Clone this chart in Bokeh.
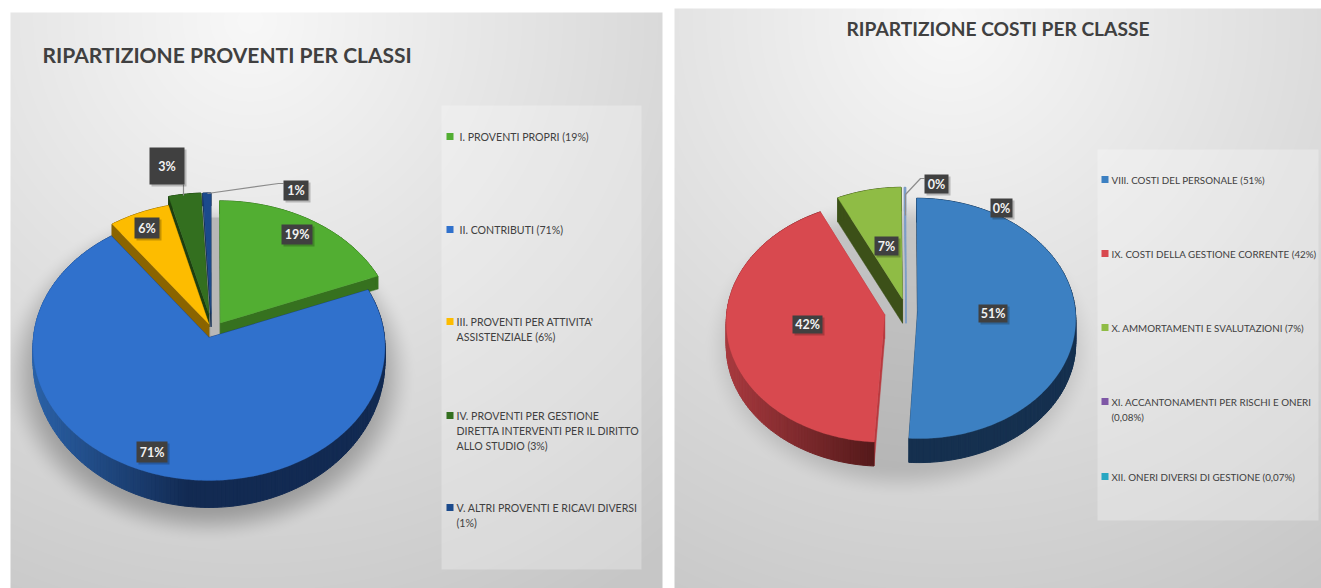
import math
import numpy as np
from bokeh.plotting import figure
from bokeh.models import Range1d
from bokeh.core.properties import value
from bokeh.embed import file_html
from bokeh.resources import INLINE

# ---------- data ----------
title_left = "RIPARTIZIONE PROVENTI PER CLASSI"
title_right = "RIPARTIZIONE COSTI PER CLASSE"
cats_left = ["I. PROVENTI PROPRI (19%)", "II. CONTRIBUTI (71%)",
             "III. PROVENTI PER ATTIVITA'\nASSISTENZIALE (6%)",
             "IV. PROVENTI PER GESTIONE\nDIRETTA INTERVENTI PER IL DIRITTO\nALLO STUDIO (3%)",
             "V. ALTRI PROVENTI E RICAVI DIVERSI\n(1%)"]
vals_left = [19.0, 71.0, 6.0, 3.2, 0.8]
labels_left = ["19%", "71%", "6%", "3%", "1%"]
cats_right = ["VIII. COSTI DEL PERSONALE (51%)", "IX. COSTI DELLA GESTIONE CORRENTE (42%)",
              "X. AMMORTAMENTI E SVALUTAZIONI (7%)",
              "XI. ACCANTONAMENTI PER RISCHI E ONERI\n(0,08%)",
              "XII. ONERI DIVERSI DI GESTIONE (0,07%)"]
vals_right = [51.0, 42.0, 7.0, 0.08, 0.07]
labels_right = ["51%", "42%", "7%", "0%", "0%"]

# ---------- styling / layout ----------
W, H = 1321, 588
FONT = "Lato"
TXT = "#404040"
def Y(py):
    return H - py

left_style = dict(
    cx=208.5, cy=337, rx=175.5, ry=132.8, k=0.071, d_front=27, d_back=13,
    shift=[(0.065, -0.11), (0, 0), (0, -0.10), (0, -0.18), (0.012, -0.18)],
    top=["#52AE32", "#3071CC", "#FDBC00", "#336F1F", "#1B4A8C"],
    rim=[("#36711F", "#36711F"), ("#2B62A8", "#122A52"), ("#8A6400", "#8A6400"),
         ("#1D3F11", "#1D3F11"), ("#0F2A50", "#0F2A50")],
    cut=["#36711F", "#122A52", "#8A6400", "#1D3F11", "#0F2A50"],
    rim_span=(32, 190),
)
right_style = dict(
    cx=900, cy=313, rx=158, ry=120, k=0.058, d_front=24, d_back=24,
    shift=[(0.108, -0.017), (-0.10, 0.01), (0.013, -0.12), (0.035, -0.12), (0.035, -0.12)],
    top=["#3C80C2", "#D8494F", "#8FBC45", "#7F9FC8", "#7F9FC8"],
    rim=[("#15304F", "#15304F"), ("#A83A3F", "#551A1B"), ("#3C5018", "#3C5018"),
         ("#7F9FC8", "#7F9FC8"), ("#7F9FC8", "#7F9FC8")],
    cut=["#15304F", "#B8393E", "#3C5018", "#7F9FC8", "#7F9FC8"],
    rim_span=(726, 873),
)
boxes_left = [(281, 224, 312, 244), (136, 441, 167, 462), (134, 217, 159, 238),
              (149, 147, 184, 184), (283, 180, 308, 200)]
boxes_right = [(978, 304, 1007, 322), (792, 315, 822, 333), (874, 236, 898, 255),
               (924, 174, 948, 193), (990, 198, 1012, 217)]
leaders = [([183, 183], [184, 195]), ([207, 278, 283], [193, 183, 183]),
           ([905, 905, 920, 924], [215, 194, 178, 178])]
panels = [(10, 12, 662, 588, 250, 20, 680), (674, 8, 1321, 588, 950, 20, 680)]
shadows = [(208, 372, 186, 152, 0.26), (900, 345, 176, 136, 0.15)]
leg_left = dict(box=(441, 105, 641, 569), ys=[136, 229, 321, 415, 507], mx=446,
                tx=[459, 459, 456, 456, 456], colors=left_style["top"], size="10.6px")
leg_right = dict(box=(1097, 149, 1318, 520), ys=[179, 253, 327, 401, 476], mx=1101,
                 tx=[1111] * 5, colors=["#3C80C2", "#D8494F", "#8FBC45", "#7E57A6", "#27A7C2"], size="9.8px")


def hex_rgb(h):
    return np.array([int(h[i:i + 2], 16) for i in (1, 3, 5)], float)


def mix(a, b, t):
    c = hex_rgb(a) * (1 - t) + hex_rgb(b) * t
    return "#%02x%02x%02x" % tuple(int(round(x)) for x in c)


# ---------- background image: panels with radial gradient and soft shadows ----------
xx, yy = np.meshgrid(np.arange(W) + 0.5, np.arange(H) + 0.5)
rgb = np.full((H, W), 255.0)
for x0, y0, x1, y1, gx, gy, gr in panels:
    m = (xx >= x0) & (xx < x1) & (yy >= y0) & (yy < y1)
    t = np.clip(np.hypot(xx - gx, yy - gy) / gr, 0, 1)
    rgb[m] = (248 - 50 * t)[m]
for sx, sy, srx, sry, amt in shadows:
    r = np.hypot((xx - sx) / srx, (yy - sy) / sry)
    a = np.clip((1.12 - r) / 0.24, 0, 1)
    a = a * a * (3 - 2 * a) * amt
    rgb = np.where(rgb < 255, rgb * (1 - a), rgb)
v8 = rgb.astype(np.uint8).astype(np.uint32)
img = (np.uint32(255) << 24) | (v8 << 16) | (v8 << 8) | v8
img = img[::-1].astype(np.uint32)

p = figure(width=W, height=H, x_range=Range1d(0, W), y_range=Range1d(0, H),
           output_backend="svg", toolbar_location=None, min_border=0,
           background_fill_color="white", border_fill_color="white", outline_line_color=None)
p.axis.visible = False
p.grid.visible = False
p.image_rgba(image=[img], x=0, y=0, dw=W, dh=H)

# legend panels
for leg in (leg_left, leg_right):
    x0, y0, x1, y1 = leg["box"]
    p.quad(left=[x0], right=[x1], top=[Y(y0)], bottom=[Y(y1)], fill_color="white",
           fill_alpha=0.28, line_color=None)

# grey inner patch in the gap of the left pie
p.quad(left=[210], right=[219], top=[Y(217)], bottom=[Y(335)], fill_color="#B7B7B7", line_color=None)


def draw_pie(vals, st):
    total = sum(vals)
    acc = 0.0
    slices = []
    for i, val in enumerate(vals):
        a0 = acc / total * 2 * math.pi
        acc += val
        a1 = acc / total * 2 * math.pi
        slices.append((i, a0, a1))

    def proj(u, v, base):
        w = 1 - st["k"] * v
        x = st["cx"] + st["rx"] * u / w
        y = st["cy"] + st["ry"] * v / w
        if base:
            y += st["d_back"] + (st["d_front"] - st["d_back"]) * max(min(v, 1), 0)
        return x, y

    order = sorted(slices, key=lambda s: -math.cos((s[1] + s[2]) / 2))
    for i, a0, a1 in order:
        ex, ey = st["shift"][i]
        n = max(2, int((a1 - a0) / math.radians(1.2)))
        th = np.linspace(a0, a1, n + 1)
        us = np.sin(th) + ex
        vs = -np.cos(th) + ey
        # cut faces
        for u, v in ((us[0], vs[0]), (us[-1], vs[-1])):
            pts = [proj(ex, ey, False), proj(u, v, False), proj(u, v, True), proj(ex, ey, True)]
            p.patch([q[0] for q in pts], [Y(q[1]) for q in pts], fill_color=st["cut"][i],
                    line_color=st["cut"][i], line_width=0.5)
        # outer rim, strips shaded by horizontal position
        c0, c1 = st["rim"][i]
        xa, xb = st["rim_span"]
        for j in range(n):
            pts = [proj(us[j], vs[j], False), proj(us[j + 1], vs[j + 1], False),
                   proj(us[j + 1], vs[j + 1], True), proj(us[j], vs[j], True)]
            t = min(max((pts[0][0] - xa) / (xb - xa), 0), 1)
            col = mix(c0, c1, t)
            p.patch([q[0] for q in pts], [Y(q[1]) for q in pts], fill_color=col,
                    line_color=col, line_width=1)
        # top surface
        pts = [proj(ex, ey, False)] + [proj(u, v, False) for u, v in zip(us, vs)]
        p.patch([q[0] for q in pts], [Y(q[1]) for q in pts], fill_color=st["top"][i],
                line_color=st["top"][i], line_width=0.3)


draw_pie(vals_left, left_style)
draw_pie(vals_right, right_style)

# leader lines
for lx, ly in leaders:
    p.line(lx, [Y(v) for v in ly], line_color="#8C8C8C", line_width=1.2)

# value labels
for boxes, labels in ((boxes_left, labels_left), (boxes_right, labels_right)):
    for (x0, y0, x1, y1), lab in zip(boxes, labels):
        p.quad(left=[x0 + 2], right=[x1 + 2], top=[Y(y0 + 2)], bottom=[Y(y1 + 2)],
               fill_color="black", fill_alpha=0.22, line_color=None)
        p.quad(left=[x0], right=[x1], top=[Y(y0)], bottom=[Y(y1)], fill_color="#404040", line_color=None)
        p.text([(x0 + x1) / 2], [Y((y0 + y1) / 2)], text=[lab], text_color="#F2F2F2",
               text_font=value(FONT), text_font_style="bold", text_font_size="12.5px",
               text_align="center", text_baseline="middle")

# legends
for leg, cats in ((leg_left, cats_left), (leg_right, cats_right)):
    for cat, ly, tx, col in zip(cats, leg["ys"], leg["tx"], leg["colors"]):
        p.quad(left=[leg["mx"]], right=[leg["mx"] + 7], top=[Y(ly - 3.5)], bottom=[Y(ly + 3.5)],
               fill_color=col, line_color=None)
        for n, line in enumerate(cat.split("\n")):
            p.text([tx], [Y(ly + n * 15.2)], text=[line], text_color=TXT, text_font=value(FONT),
                   text_font_size=leg["size"], text_align="left", text_baseline="middle")

# titles
p.text([42], [Y(54)], text=[title_left], text_color=TXT, text_font=value(FONT), text_font_style="bold",
       text_font_size="21px", text_align="left", text_baseline="middle")
p.text([846], [Y(28)], text=[title_right], text_color=TXT, text_font=value(FONT), text_font_style="bold",
       text_font_size="19.2px", text_align="left", text_baseline="middle")

open("out.html", "w").write(file_html(p, INLINE))
